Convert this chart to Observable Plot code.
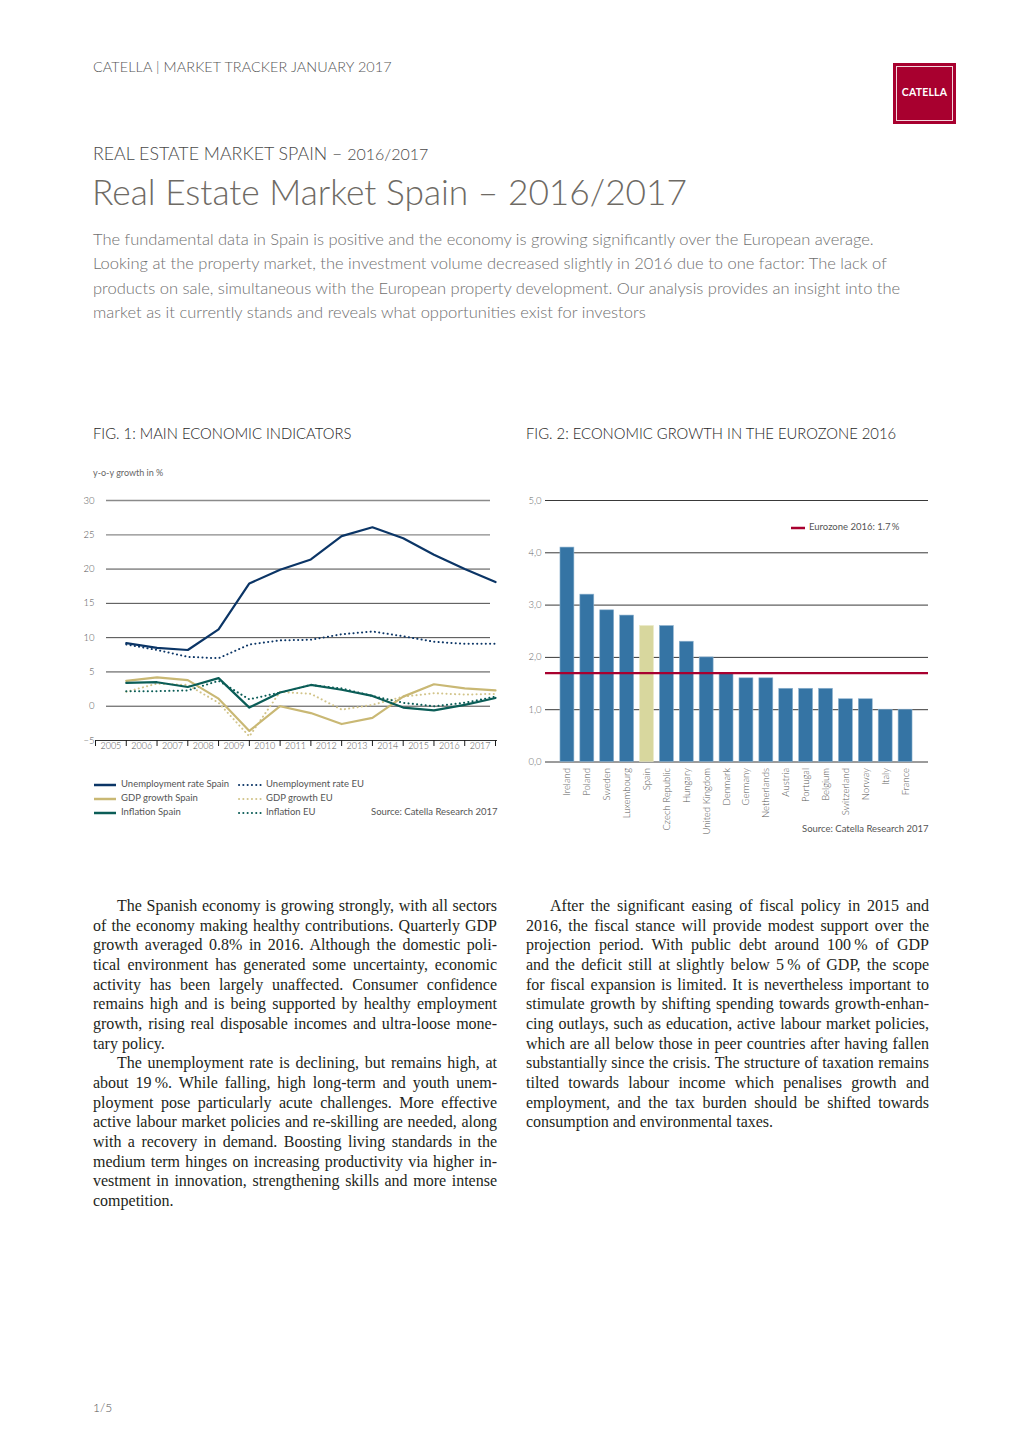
<!DOCTYPE html>
<html><head><meta charset="utf-8">
<script src="https://cdn.jsdelivr.net/npm/d3@7"></script>
<script src="https://cdn.jsdelivr.net/npm/@observablehq/plot@0.6"></script>
<style>
body{margin:0;background:#fff;}
#page{position:relative;width:1020px;height:1442px;overflow:hidden;font-family:Lato,"Open Sans",sans-serif;font-weight:300;}
.abs{position:absolute;white-space:nowrap;}
.hdr{left:93px;top:58px;font-size:14.4px;line-height:18px;color:#555;letter-spacing:0.1px;}
.logo{left:893px;top:63px;width:63px;height:61px;background:#a8002f;}
.logo .in{position:absolute;left:3px;top:3px;right:3px;bottom:3px;border:1px solid #f2d6dc;}
.logo .t{position:absolute;left:0;right:0;top:23px;text-align:center;color:#fff;font-family:Lato,sans-serif;font-weight:700;font-size:10.5px;letter-spacing:0.2px;}
.kicker{left:93px;top:142px;font-size:17.8px;line-height:22px;color:#4a4a4a;}
.kicker span{font-size:16px;}
.title{left:92px;top:169px;font-size:35.3px;line-height:46px;color:#6e6a64;}
.intro{left:93px;top:227px;font-size:16.5px;line-height:24.3px;color:#6f6f6f;}
.fig{top:424px;font-size:14.8px;line-height:18px;color:#1e1e1e;font-weight:300;}
.small{font-size:9.5px;line-height:12px;color:#666;font-weight:400;}
.col{position:absolute;top:896px;font-family:"Liberation Serif",serif;font-size:16px;line-height:19.67px;color:#231f20;}
.col div{text-align:justify;text-align-last:justify;white-space:nowrap;}
.col div.last{text-align-last:left;}
.col div.ind{text-indent:24px;}
.leg{font-size:9.5px;line-height:14px;color:#555;font-weight:400;}
.sw{display:inline-block;vertical-align:middle;margin-right:4px;}
</style></head><body><div id="page">
<div class="abs hdr">CATELLA | MARKET TRACKER JANUARY 2017</div>
<div class="abs logo"><div class="in"></div><div class="t">CATELLA</div></div>
<div class="abs kicker">REAL ESTATE MARKET SPAIN – <span>2016/2017</span></div>
<div class="abs title">Real Estate Market Spain – 2016/2017</div>
<div class="abs intro">The fundamental data in Spain is positive and the economy is growing significantly over the European average.<br>Looking at the property market, the investment volume decreased slightly in 2016 due to one factor: The lack of<br>products on sale, simultaneous with the European property development. Our analysis provides an insight into the<br>market as it currently stands and reveals what opportunities exist for investors</div>

<div class="abs fig" style="left:93px">FIG. 1: MAIN ECONOMIC INDICATORS</div>
<div class="abs fig" style="left:526px">FIG. 2: ECONOMIC GROWTH IN THE EUROZONE 2016</div>
<div class="abs small" style="left:93px;top:467px;font-size:9px;">y-o-y growth in %</div>
<div id="fig1" class="abs" style="left:80px;top:490px;"></div>
<div id="fig2" class="abs" style="left:515px;top:490px;"></div>

<div id="leg1" class="abs leg" style="left:93px;top:777px;"></div>
<div id="leg2" class="abs leg" style="left:238px;top:777px;"></div>
<div class="abs leg" style="left:371px;top:805px;">Source: Catella Research 2017</div>
<div class="abs leg" style="left:791px;top:520px;"><svg class="sw" width="14" height="4"><line x1="0" x2="14" y1="2" y2="2" stroke="#a8002f" stroke-width="2.5"/></svg>Eurozone 2016: 1.7&#8201;%</div>
<div class="abs leg" style="left:802px;top:822px;">Source: Catella Research 2017</div>

<div class="col" style="left:93px;width:404px;">
<div class="ind">The Spanish economy is growing strongly, with all sectors</div>
<div>of the economy making healthy contributions. Quarterly GDP</div>
<div>growth averaged 0.8% in 2016. Although the domestic poli-</div>
<div>tical environment has generated some uncertainty, economic</div>
<div>activity has been largely unaffected. Consumer confidence</div>
<div>remains high and is being supported by healthy employment</div>
<div>growth, rising real disposable incomes and ultra-loose mone-</div>
<div class="last">tary policy.</div>
<div class="ind">The unemployment rate is declining, but remains high, at</div>
<div>about 19&#8201;%. While falling, high long-term and youth unem-</div>
<div>ployment pose particularly acute challenges. More effective</div>
<div>active labour market policies and re-skilling are needed, along</div>
<div>with a recovery in demand. Boosting living standards in the</div>
<div>medium term hinges on increasing productivity via higher in-</div>
<div>vestment in innovation, strengthening skills and more intense</div>
<div class="last">competition.</div>
</div>
<div class="col" style="left:526px;width:403px;">
<div class="ind">After the significant easing of fiscal policy in 2015 and</div>
<div>2016, the fiscal stance will provide modest support over the</div>
<div>projection period. With public debt around 100&#8201;% of GDP</div>
<div>and the deficit still at slightly below 5&#8201;% of GDP, the scope</div>
<div>for fiscal expansion is limited. It is nevertheless important to</div>
<div>stimulate growth by shifting spending towards growth-enhan-</div>
<div>cing outlays, such as education, active labour market policies,</div>
<div>which are all below those in peer countries after having fallen</div>
<div>substantially since the crisis. The structure of taxation remains</div>
<div>tilted towards labour income which penalises growth and</div>
<div>employment, and the tax burden should be shifted towards</div>
<div class="last">consumption and environmental taxes.</div>
</div>
<div class="abs" style="left:93px;top:1400px;font-size:12px;line-height:16px;color:#555;">1/5</div>
</div>
<script>
// ---- Fig. 1 data ----
const years = [2005,2006,2007,2008,2009,2010,2011,2012,2013,2014,2015,2016,2017];
const unempSpain = [9.2,8.5,8.2,11.2,17.9,19.9,21.4,24.8,26.1,24.5,22.1,20.0,18.1];
const unempEU    = [9.0,8.2,7.2,7.0,9.0,9.6,9.7,10.5,10.9,10.2,9.4,9.1,9.1];
const gdpSpain   = [3.7,4.2,3.8,1.1,-3.6,0.0,-1.0,-2.6,-1.7,1.4,3.2,2.6,2.3];
const gdpEU      = [2.1,3.3,3.1,0.5,-4.4,2.1,1.8,-0.5,0.2,1.4,1.9,1.7,1.8];
const inflSpain  = [3.4,3.5,2.8,4.1,-0.2,2.0,3.1,2.4,1.5,-0.2,-0.6,0.2,1.2];
const inflEU     = [2.2,2.2,2.3,3.7,1.0,2.0,3.1,2.6,1.5,0.5,0.0,0.5,1.4];
const seriesNames = ["Unemployment rate Spain","GDP growth Spain","Inflation Spain","Unemployment rate EU","GDP growth EU","Inflation EU"];
const yTicks1 = [-5,0,5,10,15,20,25,30];

// ---- Fig. 2 data ----
const countries = ["Ireland","Poland","Sweden","Luxembourg","Spain","Czech Republic","Hungary","United Kingdom","Denmark","Germany","Netherlands","Austria","Portugal","Belgium","Switzerland","Norway","Italy","France"];
const growth2016 = [4.1,3.2,2.9,2.8,2.6,2.6,2.3,2.0,1.7,1.6,1.6,1.4,1.4,1.4,1.2,1.2,1.0,1.0];
const eurozone2016 = 1.7;
const yTicks2 = [0,1,2,3,4,5];

const NAVY = "#0b3566", KHAKI = "#c9b874", KHAKI_D = "#d2c48a", TEAL = "#0b5d57";
const styles = {
  "Unemployment rate Spain": {stroke: NAVY, dot: false},
  "GDP growth Spain": {stroke: KHAKI, dot: false},
  "Inflation Spain": {stroke: TEAL, dot: false},
  "Unemployment rate EU": {stroke: NAVY, dot: true},
  "GDP growth EU": {stroke: KHAKI_D, dot: true},
  "Inflation EU": {stroke: TEAL, dot: true}
};
const seriesValues = {
  "Unemployment rate Spain": unempSpain, "GDP growth Spain": gdpSpain, "Inflation Spain": inflSpain,
  "Unemployment rate EU": unempEU, "GDP growth EU": gdpEU, "Inflation EU": inflEU
};
const rows = seriesNames.flatMap(s => years.map((yr, i) => ({series: s, year: yr, value: seriesValues[s][i]})));
const drawOrder = ["GDP growth EU","Inflation EU","Unemployment rate EU","GDP growth Spain","Inflation Spain","Unemployment rate Spain"];

const lineMarks = drawOrder.map(s => Plot.line(rows.filter(r => r.series === s), {
  x: "year", y: "value", stroke: styles[s].stroke,
  strokeWidth: styles[s].dot ? 2 : 2.2,
  strokeDasharray: styles[s].dot ? "0.1 4.2" : null,
  strokeLinecap: "round", strokeLinejoin: "round"
}));

const fig1 = Plot.plot({
  width: 430, height: 270,
  marginLeft: 15, marginRight: 15, marginTop: 10, marginBottom: 20,
  style: {fontFamily: "Lato, sans-serif", fontSize: "9.5px", color: "#555", background: "transparent"},
  x: {domain: [2004, 2017], label: null},
  y: {domain: [-5, 30], label: null},
  marks: [
    Plot.ruleY(yTicks1.filter(v => v >= 0 && v <= 20), {stroke: "#1a1a1a", strokeWidth: 0.8, insetLeft: 11, insetRight: 5}),
    Plot.ruleY(yTicks1.filter(v => v > 20), {stroke: "#8a8a8a", strokeWidth: 1.3, insetLeft: 11, insetRight: 5}),
    Plot.ruleY([-5], {stroke: "#1a1a1a", strokeWidth: 0.9, insetRight: -2}),
    Plot.axisY({ticks: yTicks1, tickSize: 0, tickPadding: 1, fill: "#555", fontSize: 9.5, label: null}),
    Plot.axisX({ticks: d3.range(2004, 2018), tickSize: 6, tickFormat: () => "", stroke: "#1a1a1a", label: null}),
    Plot.axisX({ticks: years.map(y => y - 0.5), tickSize: 0, tickPadding: 2, tickFormat: d => String(d + 0.5), fill: "#555", fontSize: 9, label: null}),
    ...lineMarks
  ]
});
document.getElementById("fig1").appendChild(fig1);

// legend fig 1
function swatch(s) {
  const st = styles[s];
  return `<svg class="sw" width="24" height="4"><line x1="1" x2="23" y1="2" y2="2" stroke="${st.stroke}" stroke-width="${st.dot ? 2 : 2.5}" ${st.dot ? 'stroke-dasharray="0.1 4.2" stroke-linecap="round"' : ''}/></svg>`;
}
document.getElementById("leg1").innerHTML = seriesNames.slice(0,3).map(s => `<div>${swatch(s)}${s}</div>`).join("");
document.getElementById("leg2").innerHTML = seriesNames.slice(3).map(s => `<div>${swatch(s)}${s}</div>`).join("");

// ---- Fig. 2 ----
const bars = countries.map((c, i) => ({country: c, value: growth2016[i]}));
const fig2 = Plot.plot({
  width: 420, height: 360,
  marginLeft: 30, marginRight: 7, marginTop: 10, marginBottom: 88.5,
  style: {fontFamily: "Lato, sans-serif", fontSize: "9.5px", color: "#555", background: "transparent"},
  x: {domain: countries, padding: 0.3, insetLeft: 9, insetRight: 10, round: false, label: null},
  y: {domain: [0, 5], label: null},
  marks: [
    Plot.ruleY(yTicks2, {stroke: "#222", strokeWidth: 0.9}),
    Plot.axisY({ticks: yTicks2, tickSize: 0, tickPadding: 4, tickFormat: d => d3.format(".1f")(d).replace(".", ","), fill: "#666", fontSize: 9.5, label: null}),
    Plot.barY(bars.filter(d => d.country !== "Spain"), {x: "country", y: "value", fill: "#3574a4", stroke: "#8fb3cf", strokeWidth: 0.6}),
    Plot.barY(bars.filter(d => d.country === "Spain"), {x: "country", y: "value", fill: "#d8d79e", stroke: "#eceac6", strokeWidth: 0.6}),
    Plot.ruleY([eurozone2016], {stroke: "#a8002f", strokeWidth: 2.3}),
    Plot.axisX({tickSize: 0, tickPadding: 6, tickRotate: -90, fill: "#555", fontSize: 9.5, label: null})
  ]
});
document.getElementById("fig2").appendChild(fig2);
</script>
</body></html>
